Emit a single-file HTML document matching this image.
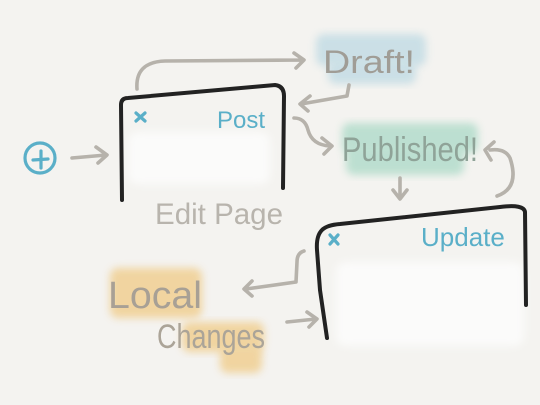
<!DOCTYPE html>
<html><head><meta charset="utf-8"><style>
html,body{margin:0;padding:0;background:#f4f3f0;}
svg{display:block;}
text{font-family:"Liberation Sans",sans-serif;}
</style></head><body>
<svg width="540" height="405" viewBox="0 0 540 405" xmlns="http://www.w3.org/2000/svg">
<defs>
<filter id="blur" x="-20%" y="-20%" width="140%" height="140%"><feGaussianBlur stdDeviation="4"/></filter>
</defs>
<rect width="540" height="405" fill="#f4f3f0"/>
<g opacity="0.85">
<rect x="316" y="34" width="110" height="32" rx="8" fill="#c3dce4" filter="url(#blur)"/>
<rect x="328" y="60" width="88" height="24" rx="8" fill="#c3dce4" filter="url(#blur)"/>
<rect x="342" y="123" width="136" height="30" rx="8" fill="#b2dccb" filter="url(#blur)"/>
<rect x="346" y="145" width="118" height="30" rx="8" fill="#b2dccb" filter="url(#blur)"/>
<rect x="110" y="268" width="92" height="50" rx="8" fill="#f0cf92" filter="url(#blur)"/>
<rect x="182" y="322" width="82" height="30" rx="8" fill="#f0cf92" filter="url(#blur)"/>
<rect x="220" y="345" width="42" height="28" rx="8" fill="#f0cf92" filter="url(#blur)"/>
</g>
<rect x="128" y="132" width="142" height="52" rx="10" fill="#fbfbfa" filter="url(#blur)"/>
<rect x="336" y="262" width="188" height="84" rx="10" fill="#fbfbfa" filter="url(#blur)"/>
<g stroke="#5aafc8" stroke-width="3.2" fill="none" stroke-linecap="round">
<circle cx="40" cy="158" r="15"/>
<path d="M33 160 L48 159 M41 151 L41 168"/>
<path d="M136 113 L145 121 M145 113 L136 121"/>
<path d="M330 235 L338 244 M338 235 L330 244"/>
</g>
<g stroke="#222" stroke-width="4" fill="none" stroke-linecap="round">
<path d="M122 200 L121 105 Q121 98 128 98 L275 85 Q284 86 284 96 L283 188"/>
<path d="M327 338 L320 290 L317 250 Q316 236 322 230 Q327 225 340 224 L500 207 Q524 204 525 212 L526 305"/>
</g>
<g stroke="#b6b2ab" stroke-width="3.6" fill="none" stroke-linecap="round" stroke-linejoin="round">
<path d="M72 158 L106 155 M96 147 L107 155 L98 163"/>
<path d="M137 89 Q135 62 165 61 L302 60 M294 53 L304 60 L296 68"/>
<path d="M349 85 L347 96 L301 104 M310 96 L300 104 L308 111"/>
<path d="M294 118 Q305 118 308 130 Q312 145 330 146 M322 138 L332 146 L324 154"/>
<path d="M400 178 L400 198 M393 190 L400 199 L407 190"/>
<path d="M497 196 Q520 188 510 158 Q505 148 490 150 M494 142 L485 150 L491 160"/>
<path d="M304 251 Q297 253 297 262 L296 282 L246 289 M252 281 L244 289 L252 296"/>
<path d="M287 322 L316 319 M307 312 L317 319 L309 327"/>
</g>
<text x="217" y="128" font-size="24" fill="#5aafc8">Post</text>
<text x="421" y="246" font-size="26" fill="#5aafc8">Update</text>
<text x="155" y="224" font-size="30" fill="#b8b4ad" textLength="128" lengthAdjust="spacingAndGlyphs">Edit Page</text>
<text x="323" y="73" font-size="32" fill="#a09d96" textLength="92" lengthAdjust="spacingAndGlyphs">Draft!</text>
<text x="342" y="161" font-size="34" fill="#8fa398" textLength="136" lengthAdjust="spacingAndGlyphs">Published!</text>
<text x="108" y="308" font-size="38" fill="#a8a095" textLength="94" lengthAdjust="spacingAndGlyphs">Local</text>
<text x="157" y="348" font-size="34" fill="#aba498" textLength="108" lengthAdjust="spacingAndGlyphs">Changes</text>
</svg>
</body></html>
